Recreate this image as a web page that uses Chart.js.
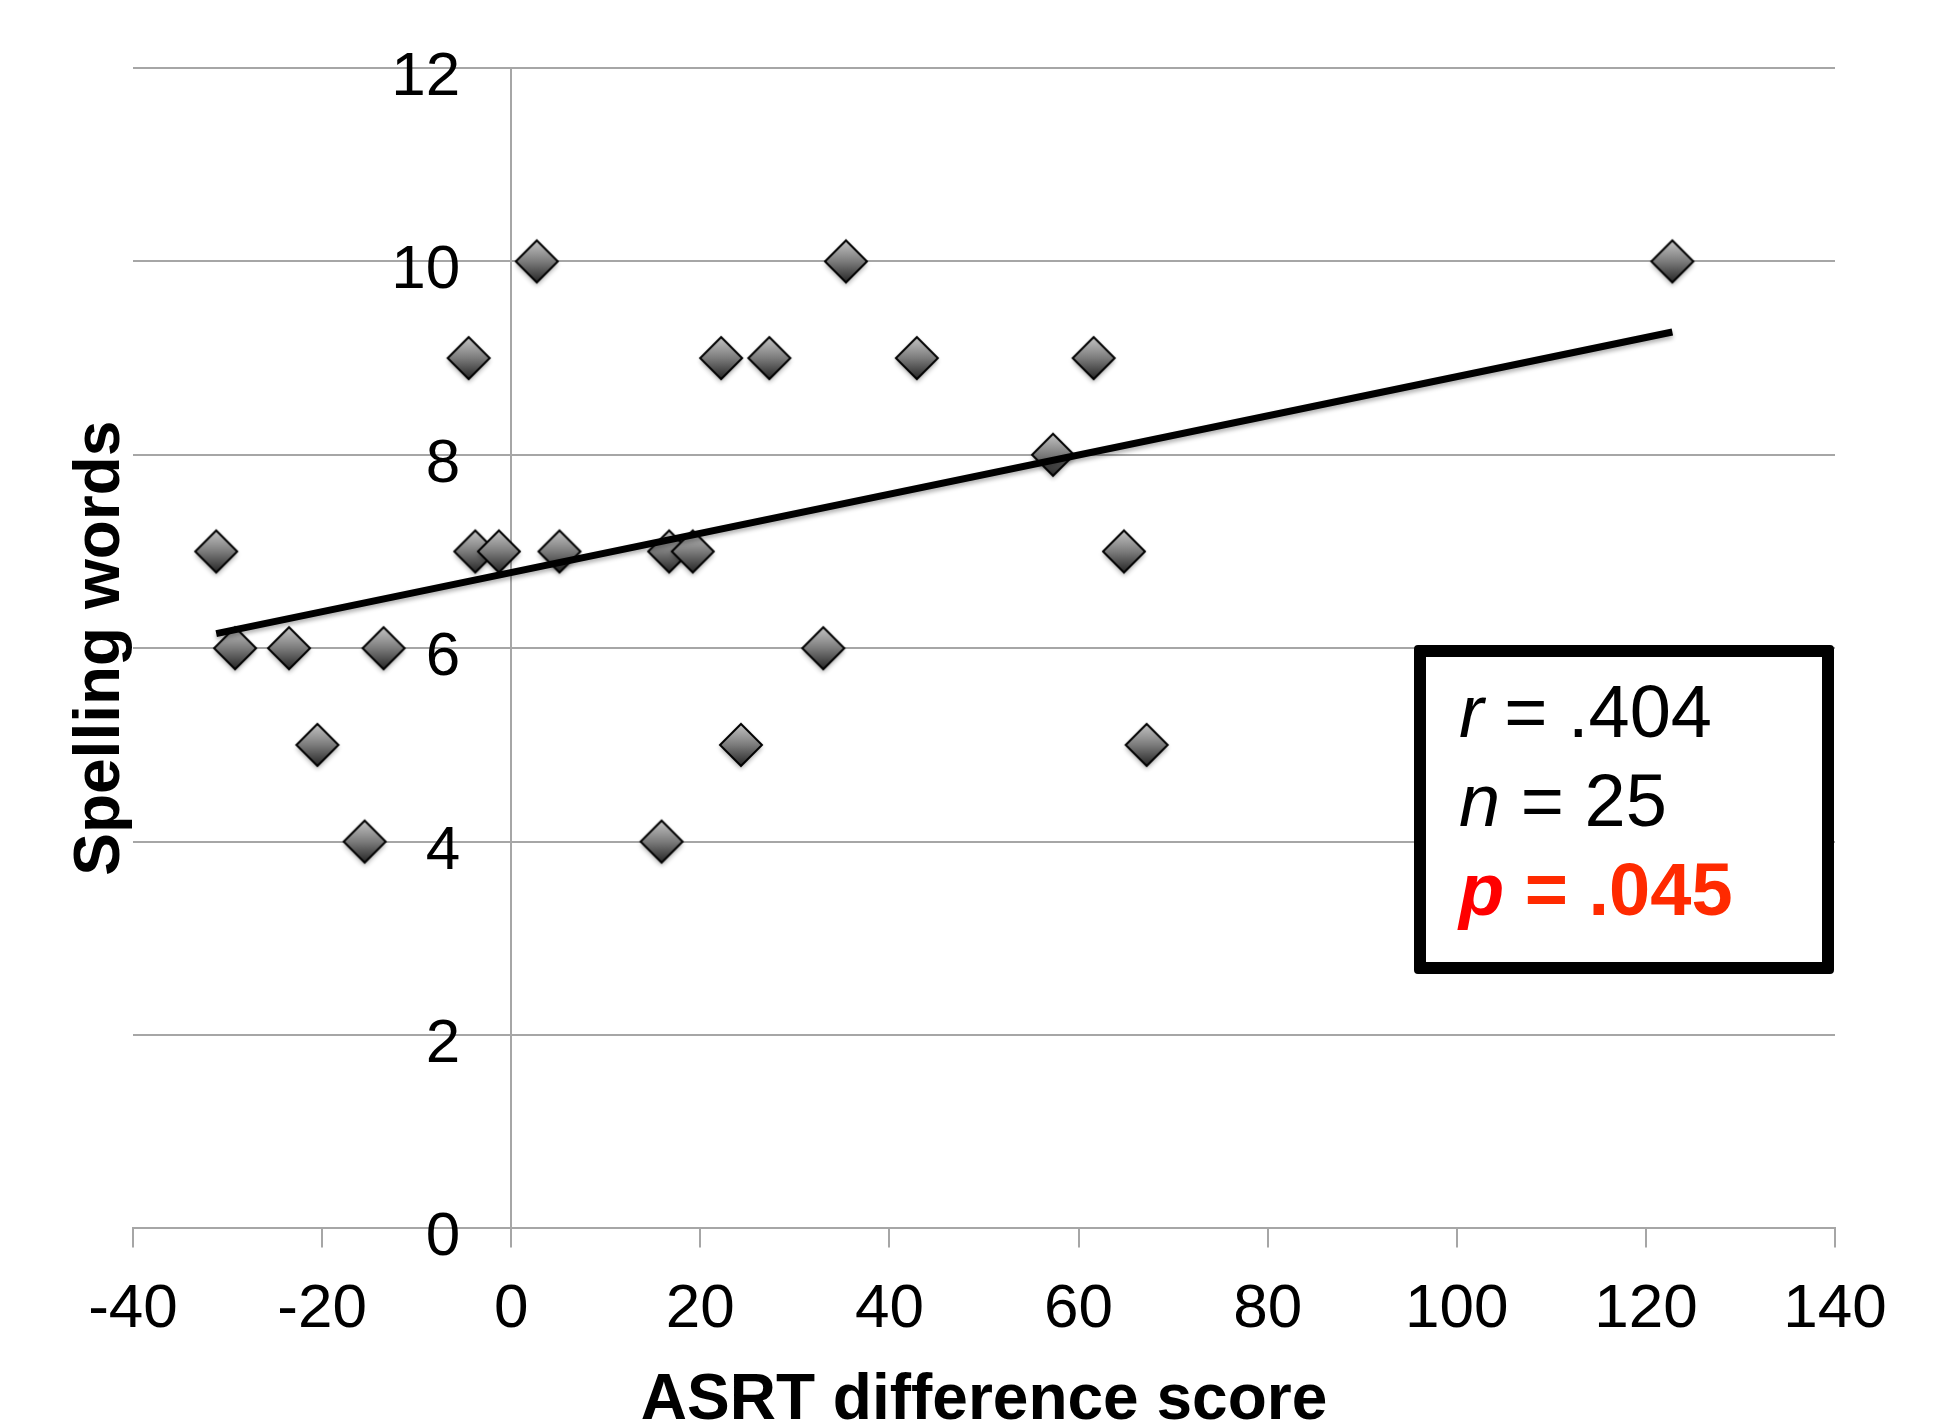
<!DOCTYPE html>
<html>
<head>
<meta charset="utf-8">
<script src="https://cdn.jsdelivr.net/npm/chart.js@4/dist/chart.umd.min.js"></script>
<style>
  html, body { margin: 0; padding: 0; background: #fff; overflow: hidden; }
  #wrap { position: relative; width: 1952px; height: 1427px; }
  #stats {
    position: absolute; left: 1414px; top: 645px; width: 420px; height: 329px;
    box-sizing: border-box; border: 12px solid #000; border-radius: 4px; background: #fff;
    padding: 10px 0 0 33px;
    font-family: 'Liberation Sans', Arial, sans-serif; font-size: 74px; line-height: 89px; color: #000;
  }
  #stats .p { font-weight: bold; color: #ff2a00; }
  #stats .p i { color: #ff0000; }
</style>
</head>
<body>
<div id="wrap">
  <canvas id="chart" width="1952" height="1427"></canvas>
  <div id="stats">
    <div><i>r</i> = .404</div>
    <div><i>n</i> = 25</div>
    <div class="p"><i>p</i> = .045</div>
  </div>
</div>
<script>
// ASRT difference score (x) vs spelling words (y), one entry per participant
const asrtScores = [-31.2, -29.2, -23.5, -20.5, -15.5, -13.5, -4.5, -3.8, -1.3, 2.7,
                    5.1, 15.9, 16.7, 19.2, 22.2, 24.3, 27.3, 33.0, 35.4, 42.9,
                    57.3, 61.6, 64.8, 67.2, 122.8];
const spellingWords = [7, 6, 6, 5, 4, 6, 9, 7, 7, 10,
                       7, 4, 7, 7, 9, 5, 9, 6, 10, 9,
                       8, 9, 7, 5, 10];

// linear trend line, end points
const trendX = [-31.2, 122.8];
const trendY = [6.15, 9.27];

const xTicks = { min: -40, max: 140, step: 20 };
const yTicks = { min: 0, max: 12, step: 2 };

const gridColor = '#a6a6a6';
Chart.defaults.font.family = "'Liberation Sans', Arial, sans-serif";
Chart.defaults.color = '#000';

// grey shaded diamond marker
function makeDiamond() {
    const c = document.createElement('canvas');
    c.width = 66;
    c.height = 66;
    const g = c.getContext('2d');
    const cx = 33, cy = 33, r = 21;
    const path = function () {
        g.beginPath();
        g.moveTo(cx, cy - r);
        g.lineTo(cx + r, cy);
        g.lineTo(cx, cy + r);
        g.lineTo(cx - r, cy);
        g.closePath();
    };
    const grad = g.createLinearGradient(0, cy - r, 0, cy + r);
    grad.addColorStop(0, '#c4c4c4');
    grad.addColorStop(0.5, '#7c7c7c');
    grad.addColorStop(1, '#262626');
    g.shadowColor = 'rgba(0,0,0,0.35)';
    g.shadowBlur = 5;
    g.shadowOffsetY = 3;
    path();
    g.fillStyle = grad;
    g.fill();
    g.shadowColor = 'transparent';
    path();
    g.lineWidth = 2;
    g.strokeStyle = '#000';
    g.stroke();
    return c;
}

const points = asrtScores.map(function (x, i) {
    return { x: x, y: spellingWords[i] };
});
const trend = trendX.map(function (x, i) {
    return { x: x, y: trendY[i] };
});

// soft shadow under the trend line
const lineShadow = {
    id: 'lineShadow',
    beforeDatasetDraw(chart, args) {
        if (args.index !== 0) return;
        const ctx = chart.ctx;
        ctx.save();
        ctx.shadowColor = 'rgba(0,0,0,0.3)';
        ctx.shadowBlur = 4;
        ctx.shadowOffsetY = 3;
    },
    afterDatasetDraw(chart, args) {
        if (args.index === 0) chart.ctx.restore();
    }
};

new Chart(document.getElementById('chart'), {
    type: 'scatter',
    data: {
        datasets: [
            {
                label: 'Trend',
                data: trend,
                showLine: true,
                borderColor: '#000',
                borderWidth: 7,
                pointRadius: 0,
                order: 0
            },
            {
                label: 'Spelling words',
                data: points,
                pointStyle: makeDiamond(),
                pointRadius: 21,
                order: 1
            }
        ]
    },
    plugins: [lineShadow],
    options: {
        responsive: false,
        devicePixelRatio: 1,
        animation: false,
        layout: { padding: { left: 61, right: 117, top: 68, bottom: 0 } },
        plugins: {
            legend: { display: false },
            tooltip: { enabled: false }
        },
        scales: {
            x: {
                type: 'linear',
                position: 'bottom',
                min: xTicks.min,
                max: xTicks.max,
                ticks: { stepSize: xTicks.step, padding: 25, font: { size: 62, lineHeight: 1.2 } },
                grid: {
                    // only the zero line is drawn across the plot, tick marks at every step
                    color: function (ctx) {
                        return ctx.tick && ctx.tick.value === 0 ? gridColor : 'rgba(0,0,0,0)';
                    },
                    tickColor: gridColor,
                    tickLength: 19,
                    lineWidth: 2
                },
                border: { color: gridColor, width: 2 },
                title: {
                    display: true,
                    text: 'ASRT difference score',
                    font: { size: 64, weight: 'bold', lineHeight: 0.8 },
                    padding: { top: 4, bottom: 0 }
                }
            },
            y: {
                type: 'linear',
                position: 'left',
                min: yTicks.min,
                max: yTicks.max,
                ticks: { stepSize: yTicks.step, display: false },
                grid: { color: gridColor, lineWidth: 2, drawTicks: false },
                border: { display: false },
                title: {
                    display: true,
                    text: 'Spelling words',
                    font: { size: 64, weight: 'bold', lineHeight: 1 },
                    padding: { top: 8, bottom: 0 }
                }
            },
            yLabels: {
                axis: 'y',
                type: 'linear',
                position: { x: -5.4 },
                min: yTicks.min,
                max: yTicks.max,
                ticks: { stepSize: yTicks.step, labelOffset: 10, font: { size: 62, lineHeight: 1.2 } },
                grid: { display: false, drawTicks: false },
                border: { display: false }
            }
        }
    }
});
</script>
</body>
</html>
